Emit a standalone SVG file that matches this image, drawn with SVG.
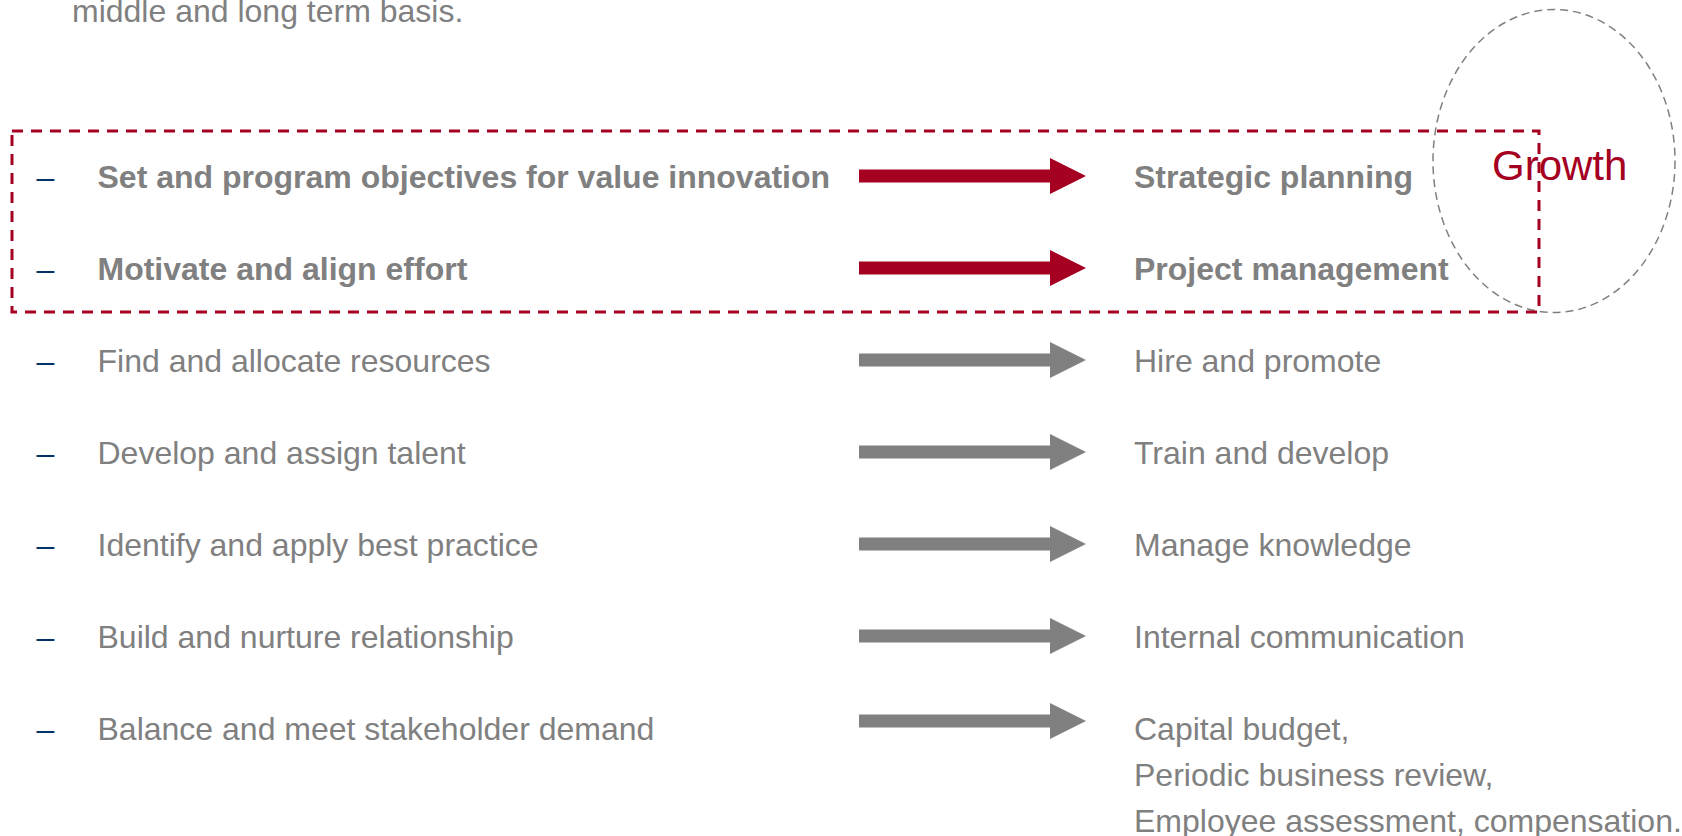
<svg xmlns="http://www.w3.org/2000/svg" width="1682" height="836" viewBox="0 0 1682 836">
  <style>
    text { font-family: "Liberation Sans", Arial, sans-serif; font-size: 32px; fill: #808080; }
    .b { font-weight: bold; }
    .dash { fill: #003366; }
    .growth { fill: #A50021; font-size: 42px; }
    .red { fill: #A50021; }
    .gray { fill: #808080; }
  </style>
  <defs>
    <polygon id="arrow" points="859,-6.5 1050,-6.5 1050,-18 1086,0 1050,18 1050,6.5 859,6.5"/>
  </defs>
  <rect width="1682" height="836" fill="#ffffff"/>

  <g id="intro">
    <text x="72" y="21.5">middle and long term basis.</text>
  </g>

  <g id="growth-ellipse">
    <ellipse cx="1554" cy="161" rx="121" ry="151.5" fill="none" stroke="#808080" stroke-width="1.5" stroke-dasharray="8 5"/>
  </g>
  <g id="growth-label">
    <text class="growth" x="1492" y="180">Growth</text>
  </g>

  <g id="row1">
    <text class="dash" x="36.5" y="187.5">–</text>
    <text class="b" x="97.5" y="187.5">Set and program objectives for value innovation</text>
    <text class="b" x="1134" y="187.5">Strategic planning</text>
  </g>
  <g id="row2">
    <text class="dash" x="36.5" y="279.5">–</text>
    <text class="b" x="97.5" y="279.5">Motivate and align effort</text>
    <text class="b" x="1134" y="279.5">Project management</text>
  </g>
  <g id="row3">
    <text class="dash" x="36.5" y="371.5">–</text>
    <text x="97.5" y="371.5">Find and allocate resources</text>
    <text x="1134" y="371.5">Hire and promote</text>
  </g>
  <g id="row4">
    <text class="dash" x="36.5" y="463.5">–</text>
    <text x="97.5" y="463.5">Develop and assign talent</text>
    <text x="1134" y="463.5">Train and develop</text>
  </g>
  <g id="row5">
    <text class="dash" x="36.5" y="555.5">–</text>
    <text x="97.5" y="555.5">Identify and apply best practice</text>
    <text x="1134" y="555.5">Manage knowledge</text>
  </g>
  <g id="row6">
    <text class="dash" x="36.5" y="647.5">–</text>
    <text x="97.5" y="647.5">Build and nurture relationship</text>
    <text x="1134" y="647.5">Internal communication</text>
  </g>
  <g id="row7">
    <text class="dash" x="36.5" y="739.5">–</text>
    <text x="97.5" y="739.5">Balance and meet stakeholder demand</text>
    <text x="1134" y="739.5">Capital budget,</text>
    <text x="1134" y="785.5">Periodic business review,</text>
    <text x="1134" y="831.5">Employee assessment, compensation.</text>
  </g>

  <g id="connectors">
    <use href="#arrow" class="red" transform="translate(0,176)"/>
    <use href="#arrow" class="red" transform="translate(0,268)"/>
    <use href="#arrow" class="gray" transform="translate(0,360)"/>
    <use href="#arrow" class="gray" transform="translate(0,452)"/>
    <use href="#arrow" class="gray" transform="translate(0,544)"/>
    <use href="#arrow" class="gray" transform="translate(0,636)"/>
    <use href="#arrow" class="gray" transform="translate(0,721)"/>
  </g>

  <g id="growth-box">
    <rect x="12" y="131" width="1527" height="181" fill="none" stroke="#A50021" stroke-width="3" stroke-dasharray="11 8"/>
  </g>
</svg>
